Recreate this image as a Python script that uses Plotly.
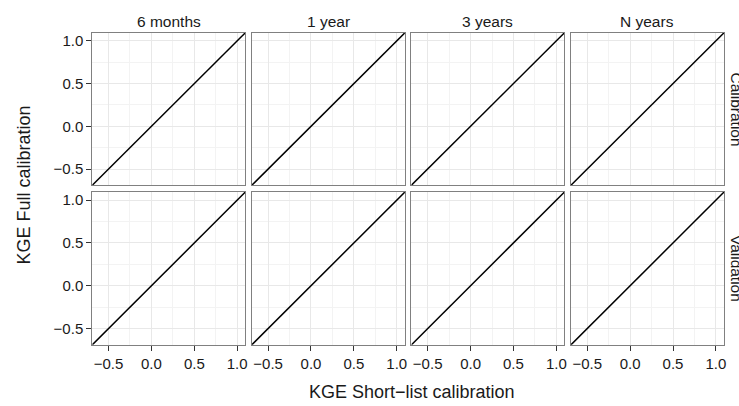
import plotly.graph_objects as go

# ---- data ----
periods = ["6 months", "1 year", "3 years", "N years"]
phases = ["Calibration", "Validation"]
axis_limits = [-0.69, 1.095]          # shared x/y limits of every panel
identity_x = [-0.69, 1.095]           # 1:1 reference line
identity_y = [-0.69, 1.095]
tick_vals = [-0.5, 0.0, 0.5, 1.0]
tick_text = ["\u22120.5", "0.0", "0.5", "1.0"]
minor_vals = [-0.75, -0.25, 0.25, 0.75]

W, H = 739, 406
col_px = [(92.5, 246.0), (252.5, 406.0), (412.5, 566.0), (572.5, 726.0)]
row_px = [(31.8, 184.7), (191.5, 344.7)]  # top, bottom (pixels from top)

font_family = "Liberation Sans, Arial, Helvetica, sans-serif"
txt_col = "#1a1a1a"
fig = go.Figure()
layout = dict(width=W, height=H, margin=dict(l=0, r=0, t=0, b=0),
              paper_bgcolor="white", plot_bgcolor="white", showlegend=False,
              font=dict(family=font_family, color=txt_col))

idx = 0
for r, (yt, yb) in enumerate(row_px):
    for c, (xl, xr) in enumerate(col_px):
        idx += 1
        s = "" if idx == 1 else str(idx)
        xa, ya = "xaxis" + s, "yaxis" + s
        fig.add_trace(go.Scatter(x=identity_x, y=identity_y, mode="lines",
                                 line=dict(color="black", width=1.5),
                                 xaxis="x" + s, yaxis="y" + s, hoverinfo="skip"))
        common = dict(range=axis_limits, showline=True, mirror=True, linecolor="#808080",
                      linewidth=1, showgrid=True, gridcolor="#e8e8e8", gridwidth=1,
                      zeroline=False, tickvals=tick_vals, ticktext=tick_text,
                      ticklen=5, tickcolor="#333333", tickwidth=1,
                      tickfont=dict(size=15, color=txt_col, family=font_family),
                      minor=dict(tickvals=minor_vals, showgrid=True,
                                 gridcolor="#f3f3f3", gridwidth=1, ticklen=0),
                      fixedrange=True)
        layout[xa] = dict(common, domain=[xl / W, xr / W], anchor="y" + s,
                          ticks="outside" if r == 1 else "", showticklabels=(r == 1))
        layout[ya] = dict(common, domain=[1 - yb / H, 1 - yt / H], anchor="x" + s,
                          ticks="outside" if c == 0 else "", showticklabels=(c == 0))

annotations = []
for c, (xl, xr) in enumerate(col_px):
    annotations.append(dict(text=periods[c], x=(xl + xr) / 2 / W, y=1 - 20.5 / H,
                            xref="paper", yref="paper", showarrow=False,
                            xanchor="center", yanchor="middle",
                            font=dict(size=15.5, color=txt_col)))
for r, (yt, yb) in enumerate(row_px):
    annotations.append(dict(text=phases[r], x=738.5 / W, y=1 - (yt + yb) / 2 / H,
                            xref="paper", yref="paper", showarrow=False, textangle=90,
                            xanchor="center", yanchor="middle",
                            font=dict(size=15.5, color=txt_col)))
annotations.append(dict(text="KGE Short\u2212list calibration", x=413 / W,
                        y=1 - 392 / H, xref="paper", yref="paper", showarrow=False,
                        xanchor="center", yanchor="middle",
                        font=dict(size=18, color=txt_col)))
annotations.append(dict(text="KGE Full calibration", x=24 / W, y=1 - 184 / H,
                        xref="paper", yref="paper", showarrow=False, textangle=-90,
                        xanchor="center", yanchor="middle",
                        font=dict(size=18, color=txt_col)))
layout["annotations"] = annotations
fig.update_layout(**layout)
fig.write_html("out.html", config={"displayModeBar": False, "staticPlot": True},
               post_script="document.body.style.margin='0px';"
               "document.documentElement.style.overflow='hidden';")
